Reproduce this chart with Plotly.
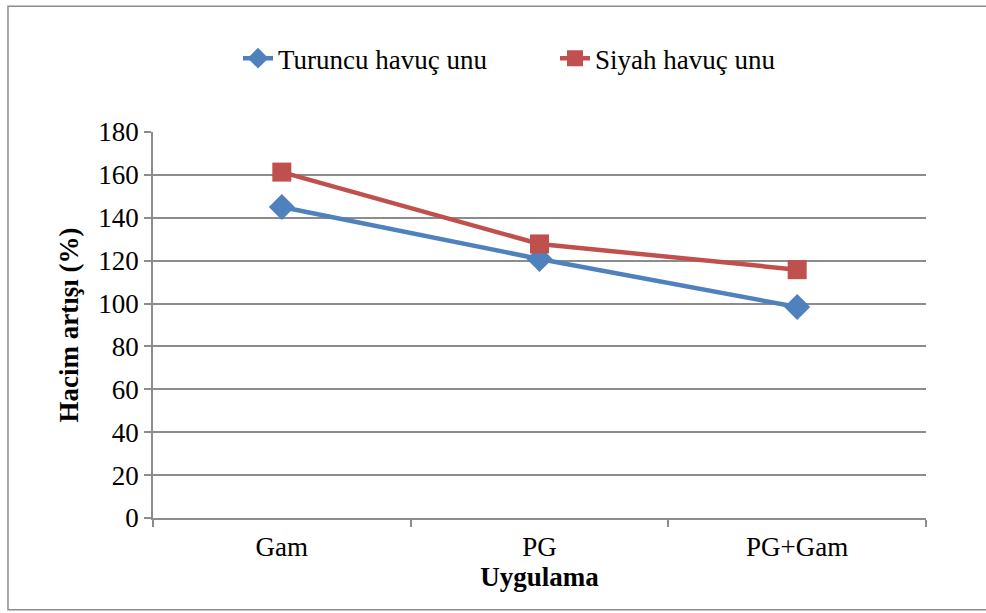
import plotly.graph_objects as go

# Treatments on the x axis
categories = ["Gam", "PG", "PG+Gam"]

# Volume increase (%) per flour type
turuncu = [145.0, 120.8, 98.4]
siyah = [161.3, 127.8, 115.8]

y_ticks = [0, 20, 40, 60, 80, 100, 120, 140, 160, 180]

FONT = "Liberation Serif"
GRID = "#8c8c8c"

def serif(size):
    return dict(family=FONT, size=size, color="black")

fig = go.Figure()
fig.add_trace(go.Scatter(
    x=categories, y=turuncu, name="Turuncu havuç unu",
    mode="lines+markers",
    line=dict(color="#4F81BD", width=4.5),
    marker=dict(symbol="diamond", size=20, color="#4F81BD",
                line=dict(width=0)),
))
fig.add_trace(go.Scatter(
    x=categories, y=siyah, name="Siyah havuç unu",
    mode="lines+markers",
    line=dict(color="#C0504D", width=4.5),
    marker=dict(symbol="square", size=19, color="#C0504D",
                line=dict(width=0)),
))

fig.update_layout(
    width=986, height=613,
    margin=dict(l=153, r=60, t=132, b=95),
    paper_bgcolor="white", plot_bgcolor="white",
    font=serif(27),
    legend=dict(
        orientation="h", x=(238 - 153) / 773, xanchor="left",
        y=1.19, yanchor="middle",
        font=serif(27), tracegroupgap=0,
        entrywidth=272, entrywidthmode="pixels",
    ),
    xaxis=dict(
        type="category", range=[-0.5, 2.5],
        showgrid=False, showline=True, linecolor=GRID, linewidth=1.5,
        ticks="outside", tickson="boundaries", ticklen=7, tickcolor=GRID,
        tickwidth=1.5, ticklabelstandoff=4,
        title=dict(text="<b>Uygulama</b>", standoff=0, font=serif(27)),
        tickfont=serif(27),
    ),
    yaxis=dict(
        range=[0, 180], tickvals=y_ticks,
        showgrid=True, gridcolor=GRID, gridwidth=1.5,
        showline=True, linecolor=GRID, linewidth=1.5,
        ticks="outside", ticklen=7, tickcolor=GRID, tickwidth=1.5,
        zeroline=False,
        title=dict(text="<b>Hacim artışı (%)</b>", standoff=12,
                   font=serif(27)),
        tickfont=serif(27),
    ),
    shapes=[dict(
        type="rect", xref="paper", yref="paper",
        x0=-0.1876, x1=1.2, y0=-0.238, y1=1.326,
        line=dict(color="#8c8c8c", width=1.5), layer="below",
    )],
)

fig.write_html("out.html")
